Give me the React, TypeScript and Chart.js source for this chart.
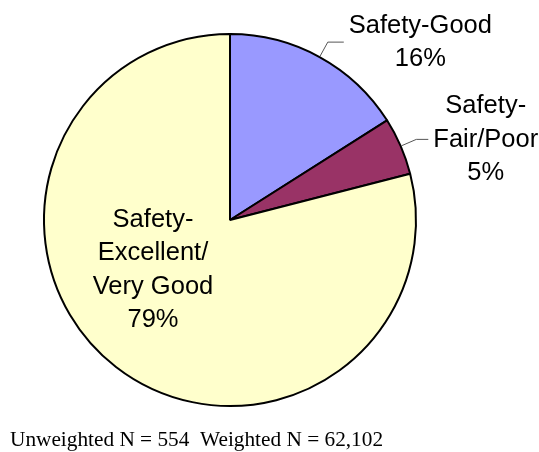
import React, { useEffect, useRef } from "react";
import { Chart, registerables } from "chart.js";

Chart.register(...registerables);

const categories = ["Safety-Good", "Safety-Fair/Poor", "Safety-Excellent/Very Good"];
const values = [16, 5, 79];
const labelLines = [
  ["Safety-Good", "16%"],
  ["Safety-", "Fair/Poor", "5%"],
  ["Safety-", "Excellent/", "Very Good", "79%"],
];
const labelPlacement = ["outside", "outside", "inside"];
const leaderRun = [16, 12, 0];
const colors = ["#9999FF", "#993366", "#FFFFCC"];
const footerText = "Unweighted N = 554\u00a0\u00a0Weighted N = 62,102";

const FONT = "25.5px 'Liberation Sans', Arial, sans-serif";
const LINE_H = 33.5;

const labelPlugin = {
  id: "pieLabels",
  afterDraw(chart: any) {
    const ctx = chart.ctx;
    const meta = chart.getDatasetMeta(0);
    ctx.save();
    ctx.font = FONT;
    ctx.fillStyle = "#000";
    ctx.textAlign = "center";
    ctx.textBaseline = "middle";
    meta.data.forEach((arc: any, i: number) => {
      const { x, y, startAngle, endAngle, outerRadius } = arc.getProps(
        ["x", "y", "startAngle", "endAngle", "outerRadius"],
        true
      );
      const lines = labelLines[i];
      const mid = (startAngle + endAngle) / 2;
      if (labelPlacement[i] === "outside") {
        const ex = x + Math.cos(mid) * (outerRadius + 1);
        const ey = y + Math.sin(mid) * (outerRadius + 1);
        const bx = x + Math.cos(mid) * (outerRadius + 17);
        const by = y + Math.sin(mid) * (outerRadius + 17);
        const hx = bx + leaderRun[i];
        ctx.strokeStyle = "#555";
        ctx.lineWidth = 1;
        ctx.beginPath();
        ctx.moveTo(ex, ey);
        ctx.lineTo(bx, by);
        ctx.lineTo(hx, by);
        ctx.stroke();
        const w = Math.max(...lines.map((l) => ctx.measureText(l).width));
        const cx = hx + 5 + w / 2;
        const cy = by + 0.5;
        lines.forEach((l, k) => {
          ctx.fillText(l, cx, cy + (k - (lines.length - 1) / 2) * LINE_H);
        });
      } else {
        const cx = x - 0.414 * outerRadius;
        const cy = y + 0.268 * outerRadius;
        lines.forEach((l, k) => {
          ctx.fillText(l, cx, cy + (k - (lines.length - 1) / 2) * LINE_H);
        });
      }
    });
    ctx.restore();
  },
};

export default function App() {
  const ref = useRef<HTMLCanvasElement>(null);
  useEffect(() => {
    document.body.style.margin = "0";
    const chart = new Chart(ref.current as HTMLCanvasElement, {
      type: "pie",
      data: {
        labels: categories,
        datasets: [
          {
            data: values,
            backgroundColor: colors,
            borderColor: "#000",
            borderWidth: 2,
          },
        ],
      },
      options: {
        animation: false,
        responsive: false,
        radius: 186,
        layout: { padding: { left: 44, right: 123, top: 34, bottom: 46 } },
        plugins: {
          legend: { display: false },
          tooltip: { enabled: false },
        },
      } as any,
      plugins: [labelPlugin],
    });
    return () => chart.destroy();
  }, []);
  return (
    <div style={{ position: "absolute", left: 0, top: 0, width: 539, height: 452, background: "#fff" }}>
      <canvas ref={ref} width={539} height={452} style={{ position: "absolute", left: 0, top: 0 }} />
      <div
        style={{
          position: "absolute",
          left: 10,
          top: 429.3,
          fontFamily: "'Liberation Serif', 'Times New Roman', serif",
          fontSize: 21.3,
          lineHeight: "21.3px",
          color: "#000",
          whiteSpace: "pre",
        }}
      >
        {footerText}
      </div>
    </div>
  );
}
